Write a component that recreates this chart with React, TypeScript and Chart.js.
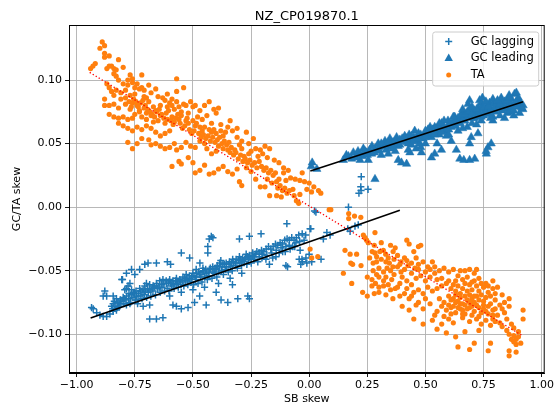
import React, { useEffect, useRef } from "react";
import { Chart, registerables } from "chart.js";

Chart.register(...registerables);

const TITLE = "NZ_CP019870.1";
const X_LABEL = "SB skew";
const Y_LABEL = "GC/TA skew";
const X_TICKS = [-1, -0.75, -0.5, -0.25, 0, 0.25, 0.5, 0.75, 1];
const Y_TICKS = [-0.1, -0.05, 0, 0.05, 0.1];
const X_MIN = -1.033;
const X_MAX = 1.013;
const Y_MIN = -0.1305;
const Y_MAX = 0.1433;

const LEGEND_LABELS = ["GC lagging", "GC leading", "TA"];
const BLUE = "#1f77b4";
const ORANGE = "#ff7f0e";

type P = [number, number];

const lagPoints: P[] = [
  [-0.936, -0.079], [-0.929, -0.080], [-0.914, -0.083], [-0.9, -0.085], [-0.886, -0.086], [-0.871, -0.086],
  [-0.857, -0.084], [-0.843, -0.082], [-0.829, -0.081], [-0.821, -0.078], [-0.879, -0.066], [-0.886, -0.070],
  [-0.871, -0.070], [-0.843, -0.070], [-0.829, -0.072], [-0.8, -0.071], [-0.793, -0.065], [-0.786, -0.064],
  [-0.771, -0.060], [-0.803, -0.057], [-0.779, -0.062], [-0.764, -0.065], [-0.75, -0.068], [-0.743, -0.070],
  [-0.736, -0.073], [-0.729, -0.064], [-0.714, -0.065], [-0.707, -0.062], [-0.7, -0.060], [-0.686, -0.061],
  [-0.671, -0.062], [-0.657, -0.060], [-0.643, -0.058], [-0.629, -0.057], [-0.614, -0.060], [-0.6, -0.057],
  [-0.586, -0.058], [-0.571, -0.056], [-0.557, -0.057], [-0.543, -0.055], [-0.529, -0.053], [-0.514, -0.056],
  [-0.5, -0.052], [-0.486, -0.055], [-0.471, -0.053], [-0.457, -0.051], [-0.443, -0.052], [-0.429, -0.049],
  [-0.414, -0.051], [-0.4, -0.048], [-0.386, -0.047], [-0.371, -0.045], [-0.357, -0.044], [-0.343, -0.043],
  [-0.329, -0.041], [-0.314, -0.041], [-0.3, -0.039], [-0.286, -0.040], [-0.271, -0.037], [-0.257, -0.038],
  [-0.243, -0.036], [-0.229, -0.037], [-0.214, -0.039], [-0.2, -0.037], [-0.186, -0.041], [-0.171, -0.045],
  [-0.157, -0.040], [-0.143, -0.039], [-0.129, -0.036], [-0.114, -0.035], [-0.1, -0.031], [-0.086, -0.030],
  [-0.071, -0.031], [-0.057, -0.028], [-0.043, -0.041], [-0.036, -0.045], [-0.029, -0.043], [-0.014, -0.040],
  [0.0, -0.037], [-0.806, -0.057], [-0.786, -0.052], [-0.764, -0.049], [-0.75, -0.053], [-0.729, -0.049],
  [-0.707, -0.045], [-0.693, -0.044], [-0.657, -0.044], [-0.61, -0.043], [-0.596, -0.045], [-0.55, -0.036],
  [-0.514, -0.040], [-0.486, -0.049], [-0.457, -0.048], [-0.436, -0.031], [-0.436, -0.036], [-0.421, -0.023],
  [-0.414, -0.024], [-0.43, -0.025], [-0.3, -0.025], [-0.257, -0.023], [-0.207, -0.021], [-0.096, -0.013],
  [0.007, -0.017], [0.029, -0.004], [-0.093, -0.047], [-0.1, -0.046], [-0.257, -0.072], [-0.264, -0.070],
  [-0.307, -0.072], [-0.35, -0.075], [-0.379, -0.073], [-0.443, -0.077], [-0.471, -0.070], [-0.493, -0.075],
  [-0.521, -0.079], [-0.55, -0.080], [-0.571, -0.078], [-0.629, -0.087], [-0.657, -0.088], [-0.686, -0.088],
  [-0.586, -0.077], [-0.714, -0.078], [-0.686, -0.077], [-0.786, -0.077], [-0.771, -0.076], [-0.814, -0.076],
  [-0.843, -0.076], [-0.85, -0.078], [-0.838, -0.074], [-0.822, -0.075], [-0.812, -0.073], [-0.797, -0.076],
  [-0.788, -0.073], [-0.776, -0.072], [-0.768, -0.075], [-0.758, -0.071], [-0.748, -0.073], [-0.738, -0.076],
  [-0.727, -0.070], [-0.719, -0.072], [-0.709, -0.069], [-0.699, -0.071], [-0.692, -0.067], [-0.681, -0.070],
  [-0.672, -0.066], [-0.661, -0.069], [-0.652, -0.064], [-0.641, -0.067], [-0.633, -0.063], [-0.622, -0.066],
  [-0.611, -0.064], [-0.603, -0.066], [-0.592, -0.062], [-0.581, -0.064], [-0.572, -0.060], [-0.563, -0.063],
  [-0.552, -0.061], [-0.539, -0.062], [-0.531, -0.058], [-0.522, -0.061], [-0.508, -0.059], [-0.497, -0.061],
  [-0.489, -0.057], [-0.478, -0.060], [-0.468, -0.055], [-0.461, -0.059], [-0.449, -0.055], [-0.438, -0.057],
  [-0.431, -0.054], [-0.418, -0.056], [-0.409, -0.052], [-0.397, -0.055], [-0.389, -0.051], [-0.378, -0.050],
  [-0.369, -0.053], [-0.361, -0.049], [-0.348, -0.051], [-0.339, -0.047], [-0.331, -0.050], [-0.318, -0.046],
  [-0.309, -0.048], [-0.298, -0.044], [-0.291, -0.046], [-0.279, -0.043], [-0.268, -0.045], [-0.262, -0.041],
  [-0.249, -0.044], [-0.238, -0.041], [-0.221, -0.043], [-0.203, -0.040], [-0.182, -0.038], [-0.161, -0.036],
  [-0.142, -0.034], [-0.121, -0.032], [-0.103, -0.035], [-0.082, -0.033], [-0.062, -0.031], [-0.041, -0.027],
  [-0.022, -0.026], [-0.6, -0.070], [-0.55, -0.067], [-0.5, -0.065], [-0.45, -0.063], [-0.39, -0.060],
  [-0.34, -0.056], [-0.29, -0.052], [-0.33, -0.061], [-0.4, -0.067], [-0.38, -0.042], [-0.47, -0.044],
  [0.169, 0.0], [0.023, -0.003], [0.004, -0.017], [0.076, -0.020], [0.09, -0.022], [0.061, -0.025],
  [0.166, -0.017], [0.197, -0.015], [0.211, -0.014], [0.176, -0.019], [-0.039, -0.034], [-0.031, -0.041],
  [-0.01, -0.044], [0.011, -0.043], [0.051, -0.041], [0.224, 0.024], [0.222, 0.016], [0.223, 0.013],
  [0.253, 0.014], [0.214, 0.011],
  [-0.845, -0.080], [-0.835, -0.078], [-0.825, -0.079], [-0.815, -0.078], [-0.805, -0.074], [-0.795, -0.072],
  [-0.785, -0.070], [-0.775, -0.068], [-0.765, -0.069], [-0.755, -0.067], [-0.745, -0.066], [-0.735, -0.068],
  [-0.725, -0.066], [-0.715, -0.067], [-0.705, -0.066], [-0.695, -0.064], [-0.685, -0.065], [-0.675, -0.064],
  [-0.665, -0.063], [-0.655, -0.062], [-0.645, -0.063], [-0.635, -0.061], [-0.625, -0.060], [-0.615, -0.058],
  [-0.605, -0.059], [-0.595, -0.060], [-0.585, -0.061], [-0.575, -0.058], [-0.565, -0.059], [-0.555, -0.058],
  [-0.545, -0.059], [-0.535, -0.056], [-0.525, -0.057], [-0.515, -0.054], [-0.505, -0.055], [-0.495, -0.054],
  [-0.485, -0.052], [-0.475, -0.051], [-0.465, -0.053], [-0.455, -0.050], [-0.445, -0.049], [-0.435, -0.051],
  [-0.425, -0.048], [-0.415, -0.047], [-0.405, -0.049], [-0.395, -0.046], [-0.385, -0.044], [-0.375, -0.047],
  [-0.365, -0.045], [-0.355, -0.047], [-0.345, -0.045], [-0.335, -0.044], [-0.325, -0.043], [-0.315, -0.044],
  [-0.305, -0.042], [-0.295, -0.041], [-0.285, -0.042], [-0.275, -0.040], [-0.265, -0.039], [-0.255, -0.040],
  [-0.245, -0.038], [-0.235, -0.039], [-0.225, -0.035], [-0.215, -0.036], [-0.205, -0.034], [-0.195, -0.035],
  [-0.185, -0.033], [-0.175, -0.031], [-0.165, -0.033], [-0.155, -0.031], [-0.145, -0.029], [-0.135, -0.030],
  [-0.125, -0.028], [-0.115, -0.029], [-0.105, -0.026], [-0.095, -0.025], [-0.085, -0.026], [-0.075, -0.024],
  [-0.065, -0.026], [-0.055, -0.024], [-0.045, -0.022], [-0.03, -0.021], [-0.015, -0.022],
];

const leadPoints: P[] = [
  [0.009, 0.032], [0.013, 0.035], [0.033, 0.030], [0.147, 0.037], [0.169, 0.040], [0.183, 0.038],
  [0.204, 0.041], [0.219, 0.037], [0.233, 0.046], [0.247, 0.043], [0.254, 0.037], [0.269, 0.042],
  [0.283, 0.046], [0.297, 0.050], [0.311, 0.048], [0.326, 0.052], [0.34, 0.047], [0.347, 0.054],
  [0.361, 0.051], [0.376, 0.055], [0.383, 0.048], [0.397, 0.052], [0.411, 0.056], [0.426, 0.050],
  [0.433, 0.043], [0.44, 0.053], [0.454, 0.060], [0.469, 0.056], [0.476, 0.050], [0.483, 0.043],
  [0.497, 0.057], [0.511, 0.061], [0.526, 0.055], [0.54, 0.063], [0.554, 0.059], [0.569, 0.066],
  [0.583, 0.060], [0.597, 0.068], [0.611, 0.063], [0.626, 0.071], [0.64, 0.067], [0.654, 0.070],
  [0.669, 0.072], [0.683, 0.081], [0.697, 0.074], [0.711, 0.073], [0.726, 0.078], [0.733, 0.084],
  [0.74, 0.071], [0.754, 0.076], [0.769, 0.080], [0.776, 0.082], [0.79, 0.071], [0.797, 0.078],
  [0.811, 0.080], [0.826, 0.082], [0.84, 0.077], [0.854, 0.074], [0.869, 0.078], [0.883, 0.089],
  [0.897, 0.081], [0.911, 0.079], [0.919, 0.077], [0.726, 0.058], [0.697, 0.055], [0.69, 0.050],
  [0.633, 0.045], [0.611, 0.052], [0.569, 0.045], [0.526, 0.039], [0.54, 0.042], [0.426, 0.045],
  [0.383, 0.037], [0.397, 0.035], [0.419, 0.034], [0.283, 0.022], [0.648, 0.038], [0.665, 0.037],
  [0.69, 0.037], [0.712, 0.038], [0.762, 0.042], [0.769, 0.047], [0.783, 0.050], [0.761, 0.044],
  [0.16, 0.041], [0.19, 0.043], [0.21, 0.044], [0.23, 0.040], [0.26, 0.045], [0.27, 0.048],
  [0.29, 0.044], [0.3, 0.047], [0.32, 0.049], [0.33, 0.045], [0.35, 0.050], [0.36, 0.046],
  [0.37, 0.052], [0.39, 0.049], [0.4, 0.054], [0.42, 0.051], [0.43, 0.057], [0.44, 0.049],
  [0.45, 0.055], [0.46, 0.052], [0.47, 0.058], [0.49, 0.054], [0.5, 0.060], [0.51, 0.056],
  [0.52, 0.063], [0.53, 0.058], [0.55, 0.062], [0.56, 0.057], [0.57, 0.064], [0.58, 0.068],
  [0.59, 0.062], [0.6, 0.065], [0.62, 0.067], [0.63, 0.064], [0.64, 0.070], [0.65, 0.066],
  [0.66, 0.074], [0.67, 0.068], [0.68, 0.071], [0.69, 0.077], [0.7, 0.070], [0.71, 0.076],
  [0.72, 0.072], [0.73, 0.075], [0.74, 0.079], [0.75, 0.072], [0.76, 0.078], [0.77, 0.074],
  [0.78, 0.077], [0.79, 0.081], [0.8, 0.075], [0.81, 0.083], [0.82, 0.078], [0.83, 0.080],
  [0.84, 0.083], [0.85, 0.079], [0.86, 0.082], [0.87, 0.085], [0.88, 0.080], [0.9, 0.084],
  [0.91, 0.082], [0.48, 0.047], [0.55, 0.050], [0.59, 0.056], [0.64, 0.060], [0.68, 0.063],
  [0.72, 0.065], [0.79, 0.068], [0.84, 0.070], [0.88, 0.072], [0.5, 0.050], [0.46, 0.046],
  [0.37, 0.044], [0.34, 0.042], [0.31, 0.041],
  [0.2, 0.039], [0.22, 0.042], [0.24, 0.044], [0.25, 0.041], [0.28, 0.043], [0.3, 0.045],
  [0.31, 0.050], [0.33, 0.048], [0.34, 0.051], [0.36, 0.049], [0.38, 0.050], [0.39, 0.053],
  [0.41, 0.052], [0.42, 0.054], [0.44, 0.056], [0.45, 0.052], [0.47, 0.054], [0.48, 0.057],
  [0.5, 0.055], [0.51, 0.059], [0.53, 0.061], [0.54, 0.057], [0.56, 0.061], [0.57, 0.059],
  [0.58, 0.063], [0.6, 0.061], [0.61, 0.066], [0.62, 0.064], [0.63, 0.068], [0.65, 0.072],
  [0.66, 0.068], [0.67, 0.073], [0.68, 0.075], [0.7, 0.073], [0.71, 0.070], [0.72, 0.077],
  [0.73, 0.071], [0.75, 0.078], [0.76, 0.074], [0.77, 0.079], [0.78, 0.073], [0.8, 0.079],
  [0.81, 0.077], [0.82, 0.081], [0.83, 0.076], [0.85, 0.084], [0.86, 0.079], [0.87, 0.081],
  [0.89, 0.083], [0.9, 0.079], [0.6, 0.057], [0.66, 0.062], [0.7, 0.066], [0.74, 0.068],
  [0.78, 0.070], [0.82, 0.072], [0.86, 0.075], [0.9, 0.086], [0.92, 0.080], [0.56, 0.066],
  [0.62, 0.071], [0.66, 0.077], [0.7, 0.079], [0.74, 0.082], [0.79, 0.085], [0.86, 0.088],
  [0.891, 0.090], [0.745, 0.086], [0.826, 0.086], [0.69, 0.084], [0.81, 0.084], [0.86, 0.086],
  [0.76, 0.083], [0.88, 0.076], [0.905, 0.074], [0.915, 0.078],
];

const taPoints: P[] = [
  [-0.89, 0.130], [-0.88, 0.127], [-0.9, 0.125], [-0.88, 0.121], [-0.88, 0.118], [-0.86, 0.119],
  [-0.92, 0.113], [-0.93, 0.111], [-0.94, 0.109], [-0.86, 0.111], [-0.85, 0.111], [-0.87, 0.109],
  [-0.84, 0.109], [-0.83, 0.108], [-0.82, 0.116], [-0.84, 0.105], [-0.8, 0.110], [-0.77, 0.104],
  [-0.76, 0.101], [-0.72, 0.104], [-0.83, 0.103], [-0.82, 0.100], [-0.8, 0.097], [-0.78, 0.096],
  [-0.76, 0.098], [-0.74, 0.097], [-0.72, 0.094], [-0.71, 0.092], [-0.86, 0.094], [-0.87, 0.097],
  [-0.85, 0.091], [-0.83, 0.092], [-0.81, 0.090], [-0.79, 0.092], [-0.77, 0.088], [-0.75, 0.089],
  [-0.73, 0.093], [-0.71, 0.087], [-0.7, 0.086], [-0.68, 0.090], [-0.65, 0.087], [-0.61, 0.089],
  [-0.59, 0.085], [-0.57, 0.091], [-0.54, 0.094], [-0.57, 0.101], [-0.88, 0.085], [-0.88, 0.080],
  [-0.86, 0.080], [-0.84, 0.081], [-0.82, 0.078], [-0.79, 0.081], [-0.77, 0.077], [-0.76, 0.082],
  [-0.74, 0.080], [-0.73, 0.076], [-0.71, 0.078], [-0.7, 0.074], [-0.69, 0.083], [-0.67, 0.079],
  [-0.66, 0.076], [-0.64, 0.080], [-0.62, 0.084], [-0.61, 0.079], [-0.59, 0.080], [-0.57, 0.083],
  [-0.56, 0.079], [-0.54, 0.081], [-0.53, 0.080], [-0.51, 0.083], [-0.5, 0.079], [-0.49, 0.080],
  [-0.47, 0.076], [-0.45, 0.080], [-0.43, 0.083], [-0.41, 0.077], [-0.4, 0.074], [-0.39, 0.078],
  [-0.86, 0.073], [-0.84, 0.071], [-0.82, 0.070], [-0.8, 0.071], [-0.78, 0.069], [-0.76, 0.070],
  [-0.75, 0.073], [-0.73, 0.075], [-0.72, 0.071], [-0.7, 0.069], [-0.68, 0.072], [-0.67, 0.067],
  [-0.65, 0.068], [-0.64, 0.072], [-0.62, 0.066], [-0.61, 0.069], [-0.59, 0.071], [-0.58, 0.067],
  [-0.56, 0.069], [-0.55, 0.072], [-0.53, 0.068], [-0.52, 0.066], [-0.5, 0.068], [-0.49, 0.064],
  [-0.47, 0.063], [-0.46, 0.060], [-0.45, 0.063], [-0.43, 0.061], [-0.42, 0.059], [-0.41, 0.061],
  [-0.4, 0.058], [-0.38, 0.060], [-0.37, 0.056], [-0.36, 0.059], [-0.34, 0.068], [-0.31, 0.062],
  [-0.27, 0.059], [-0.78, 0.051], [-0.76, 0.046], [-0.74, 0.050], [-0.72, 0.054], [-0.69, 0.053],
  [-0.68, 0.049], [-0.66, 0.050], [-0.64, 0.048], [-0.62, 0.046], [-0.6, 0.047], [-0.58, 0.050],
  [-0.57, 0.045], [-0.55, 0.047], [-0.53, 0.051], [-0.51, 0.048], [-0.49, 0.047], [-0.47, 0.052],
  [-0.45, 0.050], [-0.44, 0.046], [-0.42, 0.042], [-0.4, 0.044], [-0.39, 0.048], [-0.37, 0.046],
  [-0.35, 0.045], [-0.34, 0.043], [-0.32, 0.045], [-0.3, 0.049], [-0.29, 0.046], [-0.28, 0.040],
  [-0.26, 0.042], [-0.25, 0.044], [-0.23, 0.046], [-0.21, 0.045], [-0.19, 0.048], [-0.17, 0.046],
  [-0.59, 0.032], [-0.56, 0.036], [-0.55, 0.034], [-0.52, 0.039], [-0.5, 0.035], [-0.49, 0.027],
  [-0.47, 0.029], [-0.45, 0.033], [-0.43, 0.026], [-0.41, 0.027], [-0.39, 0.030], [-0.37, 0.032],
  [-0.35, 0.028], [-0.33, 0.026], [-0.31, 0.030], [-0.3, 0.020], [-0.29, 0.017], [-0.27, 0.031],
  [-0.25, 0.028], [-0.23, 0.022], [-0.21, 0.016], [-0.19, 0.016], [-0.18, 0.022], [-0.16, 0.019],
  [-0.14, 0.020], [-0.13, 0.022], [-0.11, 0.027], [-0.1, 0.021], [-0.08, 0.023], [-0.06, 0.022],
  [-0.04, 0.021], [-0.02, 0.020], [-0.17, 0.009], [-0.14, 0.009], [-0.12, 0.008], [-0.07, 0.014],
  [-0.04, 0.010], [-0.01, 0.014], [0.01, 0.012], [0.04, 0.013], [-0.03, 0.027], [0.0, 0.019],
  [-0.79, 0.086], [-0.775, 0.083], [-0.765, 0.079], [-0.755, 0.085], [-0.745, 0.083], [-0.735, 0.079],
  [-0.725, 0.082], [-0.715, 0.084], [-0.705, 0.080], [-0.695, 0.077], [-0.685, 0.075], [-0.675, 0.073],
  [-0.665, 0.071], [-0.655, 0.075], [-0.645, 0.077], [-0.635, 0.073], [-0.625, 0.070], [-0.615, 0.074],
  [-0.605, 0.076], [-0.595, 0.068], [-0.585, 0.065], [-0.575, 0.070], [-0.565, 0.073], [-0.555, 0.066],
  [-0.545, 0.062], [-0.535, 0.064], [-0.525, 0.070], [-0.515, 0.061], [-0.505, 0.058], [-0.495, 0.060],
  [-0.485, 0.066], [-0.475, 0.058], [-0.465, 0.055], [-0.455, 0.057], [-0.445, 0.054], [-0.435, 0.056],
  [-0.425, 0.052], [-0.415, 0.055], [-0.405, 0.051], [-0.395, 0.053], [-0.385, 0.055], [-0.375, 0.050],
  [-0.365, 0.052], [-0.355, 0.049], [-0.345, 0.051], [-0.335, 0.047], [-0.325, 0.041], [-0.315, 0.043],
  [-0.305, 0.038], [-0.295, 0.041], [-0.285, 0.036], [-0.275, 0.038], [-0.265, 0.035], [-0.255, 0.037],
  [-0.245, 0.033], [-0.235, 0.035], [-0.225, 0.031], [-0.215, 0.036], [-0.205, 0.032], [-0.195, 0.029],
  [-0.185, 0.031], [-0.175, 0.027], [-0.165, 0.029], [-0.155, 0.025], [-0.145, 0.027], [-0.135, 0.015],
  [-0.125, 0.017], [-0.115, 0.013], [-0.105, 0.015], [-0.095, 0.011], [-0.085, 0.013], [-0.065, 0.009],
  [-0.055, 0.005], [-0.045, 0.003], [-0.6, 0.060], [-0.62, 0.058], [-0.64, 0.056], [-0.66, 0.059],
  [-0.68, 0.062], [-0.7, 0.064], [-0.72, 0.061], [-0.74, 0.063], [-0.76, 0.060], [-0.78, 0.062],
  [-0.8, 0.064], [-0.82, 0.066], [-0.84, 0.088], [-0.81, 0.085], [-0.78, 0.100], [-0.75, 0.094],
  [-0.69, 0.096], [-0.66, 0.093], [-0.63, 0.086], [-0.6, 0.082], [-0.58, 0.077], [-0.55, 0.075],
  [-0.52, 0.074], [-0.48, 0.071], [-0.46, 0.069], [-0.44, 0.072], [-0.42, 0.066], [-0.38, 0.065],
  [-0.35, 0.063], [-0.33, 0.060], [-0.31, 0.055], [-0.29, 0.052], [-0.26, 0.050], [-0.24, 0.054],
  [-0.22, 0.040], [-0.2, 0.042], [-0.18, 0.039], [-0.15, 0.037], [-0.13, 0.035], [-0.11, 0.031],
  [-0.09, 0.029],
  [0.02, 0.016], [0.05, 0.011], [0.086, -0.002], [0.093, -0.002], [0.17, -0.005], [0.17, -0.009],
  [0.195, -0.007], [0.222, -0.008], [0.004, -0.033], [0.011, -0.040], [0.037, -0.039], [0.154, -0.034],
  [0.176, -0.037], [0.204, -0.037], [0.147, -0.052], [0.179, -0.044], [0.187, -0.045], [0.183, -0.060],
  [0.223, -0.046], [0.233, -0.022], [0.24, -0.024], [0.247, -0.026], [0.254, -0.028], [0.283, -0.020],
  [0.271, -0.035], [0.283, -0.036], [0.29, -0.039], [0.304, -0.035], [0.319, -0.034], [0.329, -0.037],
  [0.34, -0.040], [0.361, -0.035], [0.275, -0.044], [0.29, -0.043], [0.31, -0.041], [0.33, -0.043],
  [0.345, -0.044], [0.365, -0.041], [0.38, -0.038], [0.395, -0.043], [0.41, -0.040], [0.42, -0.026],
  [0.43, -0.029], [0.45, -0.035], [0.46, -0.040], [0.47, -0.031], [0.48, -0.030], [0.275, -0.050],
  [0.29, -0.053], [0.3, -0.048], [0.32, -0.051], [0.335, -0.048], [0.35, -0.050], [0.365, -0.053],
  [0.38, -0.047], [0.395, -0.051], [0.41, -0.049], [0.425, -0.046], [0.44, -0.052], [0.455, -0.048],
  [0.47, -0.045], [0.49, -0.043], [0.51, -0.047], [0.53, -0.043], [0.54, -0.047], [0.27, -0.057],
  [0.285, -0.060], [0.3, -0.063], [0.32, -0.058], [0.34, -0.061], [0.355, -0.057], [0.37, -0.064],
  [0.39, -0.060], [0.4, -0.055], [0.42, -0.058], [0.44, -0.061], [0.46, -0.056], [0.48, -0.054],
  [0.5, -0.058], [0.52, -0.055], [0.54, -0.052], [0.56, -0.050], [0.58, -0.048], [0.6, -0.051],
  [0.62, -0.049], [0.64, -0.054], [0.65, -0.050], [0.67, -0.050], [0.69, -0.049], [0.71, -0.052],
  [0.72, -0.049], [0.23, -0.067], [0.25, -0.070], [0.28, -0.068], [0.3, -0.067], [0.33, -0.069],
  [0.36, -0.072], [0.39, -0.070], [0.41, -0.068], [0.43, -0.072], [0.45, -0.067], [0.47, -0.065],
  [0.49, -0.068], [0.51, -0.063], [0.53, -0.066], [0.55, -0.064], [0.57, -0.062], [0.59, -0.060],
  [0.61, -0.064], [0.62, -0.061], [0.63, -0.066], [0.64, -0.062], [0.65, -0.068], [0.66, -0.064],
  [0.67, -0.060], [0.68, -0.066], [0.69, -0.061], [0.7, -0.065], [0.71, -0.058], [0.72, -0.062],
  [0.73, -0.066], [0.74, -0.060], [0.75, -0.063], [0.76, -0.060], [0.77, -0.062], [0.79, -0.058],
  [0.81, -0.063], [0.6, -0.070], [0.62, -0.072], [0.63, -0.069], [0.64, -0.074], [0.65, -0.071],
  [0.66, -0.076], [0.67, -0.070], [0.68, -0.073], [0.69, -0.069], [0.7, -0.072], [0.71, -0.075],
  [0.72, -0.070], [0.73, -0.073], [0.74, -0.069], [0.75, -0.074], [0.76, -0.071], [0.78, -0.070],
  [0.8, -0.073], [0.83, -0.069], [0.86, -0.072], [0.4, -0.078], [0.43, -0.081], [0.46, -0.077],
  [0.49, -0.080], [0.52, -0.076], [0.55, -0.082], [0.57, -0.078], [0.59, -0.081], [0.61, -0.079],
  [0.63, -0.083], [0.65, -0.080], [0.67, -0.084], [0.69, -0.079], [0.71, -0.082], [0.73, -0.086],
  [0.75, -0.080], [0.77, -0.084], [0.79, -0.081], [0.81, -0.085], [0.83, -0.080], [0.45, -0.088],
  [0.49, -0.092], [0.53, -0.089], [0.57, -0.092], [0.6, -0.088], [0.62, -0.091], [0.66, -0.087],
  [0.69, -0.090], [0.72, -0.088], [0.74, -0.092], [0.76, -0.089], [0.78, -0.093], [0.8, -0.090],
  [0.83, -0.094], [0.85, -0.097], [0.86, -0.100], [0.87, -0.104], [0.88, -0.101], [0.89, -0.104],
  [0.9, -0.102], [0.91, -0.107], [0.89, -0.108], [0.88, -0.106], [0.92, -0.081], [0.92, -0.088],
  [0.63, -0.102], [0.64, -0.110], [0.71, -0.107], [0.69, -0.112], [0.78, -0.107], [0.77, -0.113],
  [0.86, -0.113], [0.86, -0.117], [0.89, -0.114], [0.55, -0.096], [0.59, -0.099], [0.67, -0.098],
  [0.73, -0.097],
  [0.56, -0.072], [0.58, -0.075], [0.6, -0.077], [0.61, -0.073], [0.62, -0.078], [0.63, -0.075],
  [0.64, -0.079], [0.65, -0.076], [0.66, -0.081], [0.67, -0.077], [0.68, -0.080], [0.69, -0.075],
  [0.7, -0.078], [0.71, -0.070], [0.72, -0.077], [0.73, -0.079], [0.74, -0.083], [0.75, -0.077],
  [0.76, -0.082], [0.77, -0.078], [0.78, -0.076], [0.79, -0.085], [0.8, -0.080], [0.82, -0.077],
  [0.84, -0.083], [0.85, -0.088], [0.87, -0.092], [0.88, -0.095], [0.9, -0.098], [0.82, -0.091],
  [0.79, -0.088], [0.7, -0.085], [0.66, -0.084], [0.61, -0.084], [0.58, -0.086], [0.54, -0.085],
  [0.5, -0.072], [0.47, -0.075], [0.44, -0.070], [0.42, -0.064], [0.38, -0.063], [0.35, -0.065],
  [0.32, -0.062], [0.3, -0.055], [0.33, -0.055], [0.36, -0.047], [0.39, -0.045], [0.42, -0.042],
  [0.44, -0.044], [0.47, -0.049], [0.5, -0.051], [0.52, -0.049], [0.55, -0.057], [0.57, -0.056],
  [0.6, -0.058], [0.63, -0.058], [0.66, -0.057], [0.68, -0.055], [0.7, -0.059], [0.73, -0.056],
  [0.77, -0.067], [0.79, -0.064], [0.8, -0.068], [0.84, -0.075], [0.86, -0.078], [0.26, -0.040],
  [0.28, -0.030], [0.31, -0.028], [0.35, -0.030], [0.37, -0.032], [0.27, -0.062], [0.25, -0.055],
];

const lagFit: P[] = [[-0.94, -0.0873], [0.39, -0.0024]];
const leadFit: P[] = [[0.005, 0.0285], [0.92, 0.083]];
const taFit: P[] = [[-0.944, 0.106], [0.913, -0.1007]];

const FONT = "'DejaVu Sans', sans-serif";

const toXY = (pts: P[]) => pts.map(([x, y]) => ({ x, y }));
const fmt = (v: number) => {
  const s = Math.abs(v).toFixed(2);
  return v < -1e-9 ? "\u2212" + s : s;
};

const overlayPlugin = {
  id: "overlay",
  afterDraw(chart: any) {
    const ctx = chart.ctx as CanvasRenderingContext2D;
    const a = chart.chartArea;
    ctx.save();
    ctx.strokeStyle = "#000";
    ctx.lineWidth = 1;
    ctx.strokeRect(a.left + 0.5, a.top + 0.5, a.right - a.left - 1, a.bottom - a.top - 1);
    ctx.fillStyle = "#000";
    ctx.font = `13px ${FONT}`;
    ctx.textAlign = "center";
    ctx.textBaseline = "alphabetic";
    ctx.fillText(TITLE, (a.left + a.right) / 2, 20);
    const bx = a.right - 112;
    const by = a.top + 7;
    const bw = 106;
    const bh = 54;
    const r = 2.5;
    ctx.beginPath();
    ctx.moveTo(bx + r, by);
    ctx.lineTo(bx + bw - r, by);
    ctx.arcTo(bx + bw, by, bx + bw, by + r, r);
    ctx.lineTo(bx + bw, by + bh - r);
    ctx.arcTo(bx + bw, by + bh, bx + bw - r, by + bh, r);
    ctx.lineTo(bx + r, by + bh);
    ctx.arcTo(bx, by + bh, bx, by + bh - r, r);
    ctx.lineTo(bx, by + r);
    ctx.arcTo(bx, by, bx + r, by, r);
    ctx.closePath();
    ctx.fillStyle = "rgba(255,255,255,0.8)";
    ctx.fill();
    ctx.strokeStyle = "#cccccc";
    ctx.lineWidth = 1;
    ctx.stroke();
    const mx = bx + 16;
    const rows = [by + 9.5, by + 26, by + 43];
    ctx.strokeStyle = BLUE;
    ctx.lineWidth = 1.5;
    ctx.beginPath();
    ctx.moveTo(mx - 3.5, rows[0]);
    ctx.lineTo(mx + 3.5, rows[0]);
    ctx.moveTo(mx, rows[0] - 3.5);
    ctx.lineTo(mx, rows[0] + 3.5);
    ctx.stroke();
    ctx.fillStyle = BLUE;
    ctx.beginPath();
    ctx.moveTo(mx, rows[1] - 4.5);
    ctx.lineTo(mx + 4.2, rows[1] + 3);
    ctx.lineTo(mx - 4.2, rows[1] + 3);
    ctx.closePath();
    ctx.fill();
    ctx.fillStyle = ORANGE;
    ctx.beginPath();
    ctx.arc(mx, rows[2], 2.5, 0, Math.PI * 2);
    ctx.fill();
    ctx.fillStyle = "#000";
    ctx.font = `11.5px ${FONT}`;
    ctx.textAlign = "left";
    ctx.textBaseline = "middle";
    LEGEND_LABELS.forEach((t, i) => ctx.fillText(t, bx + 38, rows[i] + 0.5));
    ctx.restore();
  },
};

export default function App() {
  const ref = useRef<HTMLCanvasElement>(null);
  useEffect(() => {
    document.body.style.margin = "0";
    const canvas = ref.current;
    if (!canvas) return;
    const lineDs = (pts: P[], color: string, dash: number[], width: number) => ({
      type: "line" as const,
      data: toXY(pts),
      showLine: true,
      borderColor: color,
      borderWidth: width,
      borderDash: dash,
      pointRadius: 0,
      fill: false,
      order: 0,
    });
    const chart = new Chart(canvas, {
      type: "scatter",
      data: {
        datasets: [
          lineDs(taFit, "#ff0000", [1.3, 2.2], 1.3),
          lineDs(lagFit, "#000000", [], 1.6),
          lineDs(leadFit, "#000000", [], 1.6),
          {
            label: LEGEND_LABELS[2],
            data: toXY(taPoints),
            pointStyle: "circle",
            pointRadius: 2.6,
            backgroundColor: ORANGE,
            borderWidth: 0,
            order: 1,
          },
          {
            label: LEGEND_LABELS[1],
            data: toXY(leadPoints),
            pointStyle: "triangle",
            pointRadius: 4.8,
            backgroundColor: BLUE,
            borderColor: BLUE,
            borderWidth: 0.5,
            order: 2,
          },
          {
            label: LEGEND_LABELS[0],
            data: toXY(lagPoints),
            pointStyle: "cross",
            pointRadius: 3.6,
            borderColor: BLUE,
            borderWidth: 1.5,
            order: 3,
          },
        ] as any,
      },
      options: {
        responsive: false,
        animation: false,
        events: [],
        layout: { padding: { top: 25, right: 11, left: 0, bottom: 0 } },
        plugins: { legend: { display: false }, tooltip: { enabled: false }, title: { display: false } },
        scales: {
          x: {
            type: "linear",
            min: X_MIN,
            max: X_MAX,
            afterBuildTicks: (s: any) => {
              s.ticks = X_TICKS.map((v) => ({ value: v }));
            },
            afterFit: (s: any) => {
              s.height = 36;
            },
            ticks: { color: "#000", font: { family: FONT, size: 11 }, padding: 2, maxRotation: 0, autoSkip: false, callback: (v: any) => fmt(Number(v)) },
            grid: { color: "#b0b0b0", lineWidth: 0.9, tickColor: "#000", tickLength: 4, drawTicks: true },
            border: { color: "#000", width: 1 },
            title: { display: true, text: X_LABEL, color: "#000", font: { family: FONT, size: 11 }, padding: { top: 0, bottom: 3 } },
          },
          y: {
            type: "linear",
            min: Y_MIN,
            max: Y_MAX,
            afterBuildTicks: (s: any) => {
              s.ticks = Y_TICKS.map((v) => ({ value: v }));
            },
            afterFit: (s: any) => {
              s.width = 69;
            },
            ticks: { color: "#000", font: { family: FONT, size: 11 }, padding: 3, autoSkip: false, callback: (v: any) => fmt(Number(v)) },
            grid: { color: "#b0b0b0", lineWidth: 0.9, tickColor: "#000", tickLength: 4, drawTicks: true },
            border: { color: "#000", width: 1 },
            title: { display: true, text: Y_LABEL, color: "#000", font: { family: FONT, size: 11 }, padding: { top: 11, bottom: 0 } },
          },
        },
      } as any,
      plugins: [overlayPlugin],
    });
    return () => chart.destroy();
  }, []);
  return (
    <div style={{ width: 556, height: 409 }}>
      <canvas ref={ref} width={556} height={409} style={{ display: "block" }} />
    </div>
  );
}
